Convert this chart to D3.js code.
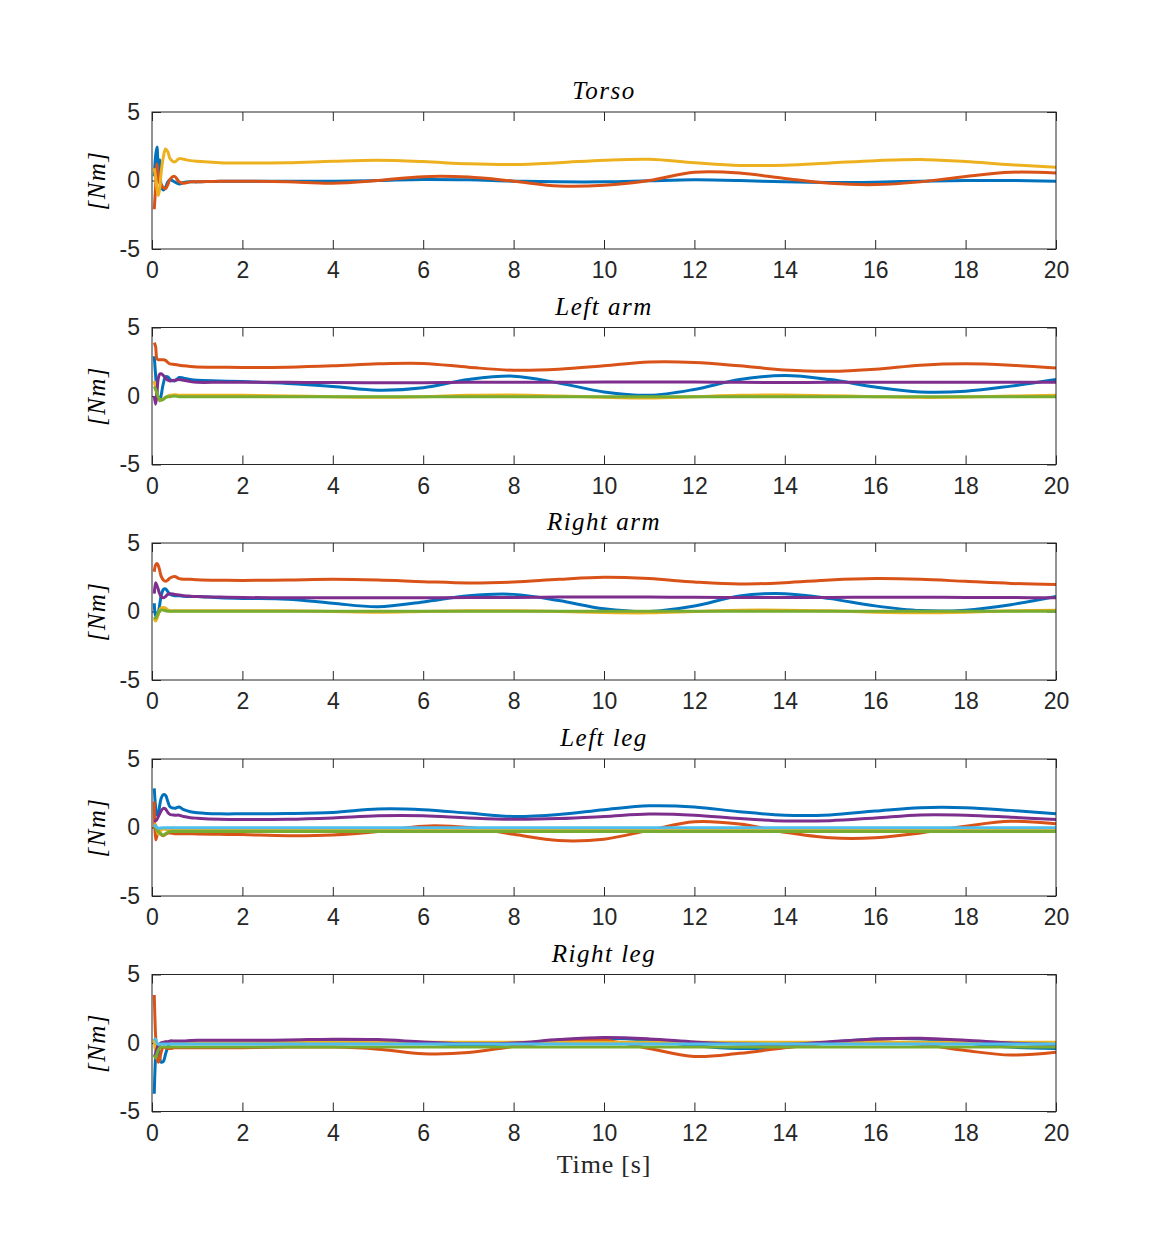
<!DOCTYPE html>
<meta charset="utf-8">
<title>Joint torques</title>
<style>
body { margin: 0; background: #fff; }
.tick text { font-family: "Liberation Sans", Arial, sans-serif; font-size: 23px; fill: #262626; }
.tick line { stroke: #262626; }
.frame { fill: none; stroke: #262626; stroke-width: 1; }
.ttl { font-family: "Liberation Serif", "DejaVu Serif", serif; font-style: italic; font-size: 25px; letter-spacing: 1.5px; fill: #000; }
.lbl { font-family: "Liberation Serif", "DejaVu Serif", serif; font-size: 26px; letter-spacing: 0.8px; fill: #262626; }
</style>
<svg width="1167" height="1250"></svg>
<script src="https://d3js.org/d3.v7.min.js"></script>
<script>

// time samples (s), dense at the start transient
var time = [0.05,0.08,0.11,0.14,0.17,0.2,0.25,0.3,0.35,0.4,0.5,0.6,0.7,0.85,1,1.5,
            2,3,4,5,6,7,8,9,10,11,12,13,14,15,16,17,18,19,20];

var titles = ["Torso", "Left arm", "Right arm", "Left leg", "Right leg"];
var yTicks = [-5, 0, 5];
var xTicks = [0,2,4,6,8,10,12,14,16,18,20];
var colors = ["#0072BD", "#D95319", "#EDB120", "#7E2F8E", "#77AC30", "#4DBEEE"];

// Torso
var torsoBlue   = [0.3,1.8,2.45,1.0,1.5,-0.3,-0.7,-0.5,-0.1,0.05,-0.1,-0.25,-0.15,-0.1,-0.1,-0.05,
                   -0.05,-0.05,-0.05,0,0.08,0.05,-0.05,-0.1,-0.1,-0.02,0.05,0,-0.1,-0.15,-0.12,-0.05,0,0,-0.05];
var torsoOrange = [-2.1,-0.5,1.2,0.3,-0.2,-0.3,-0.5,-0.6,-0.3,0.1,0.3,-0.1,-0.2,-0.1,-0.1,-0.05,
                   -0.05,-0.1,-0.2,0,0.28,0.25,-0.05,-0.4,-0.35,0,0.6,0.55,0.15,-0.2,-0.3,-0.1,0.3,0.6,0.55];
var torsoYellow = [0.9,0.2,-0.6,-1.1,-0.6,0.5,1.7,2.3,2.1,1.6,1.35,1.6,1.55,1.45,1.4,1.3,
                   1.27,1.3,1.4,1.47,1.38,1.22,1.17,1.3,1.48,1.55,1.3,1.1,1.12,1.28,1.45,1.54,1.38,1.15,0.97];

// Left arm
var lArmBlue   = [2.9,1.5,0.3,-0.2,-0.35,0,0.9,1.4,1.4,1.2,1.1,1.35,1.3,1.2,1.15,1.1,
                  1.05,0.92,0.7,0.42,0.6,1.2,1.45,0.95,0.3,0.05,0.48,1.2,1.5,1.2,0.66,0.3,0.35,0.72,1.2];
var lArmOrange = [3.9,3.6,2.7,2.65,2.65,2.65,2.65,2.6,2.45,2.35,2.3,2.25,2.2,2.15,2.12,2.1,
                  2.08,2.1,2.2,2.35,2.38,2.1,1.88,1.95,2.2,2.48,2.45,2.2,1.9,1.8,1.95,2.25,2.35,2.25,2.05];
var lArmYellow = [1.1,0.6,0.1,-0.2,-0.3,-0.3,-0.2,-0.1,0,0.05,0.1,0.05,0.05,0.05,0.05,0.05,
                  0.05,0,-0.05,-0.1,-0.05,0.05,0.08,0,-0.1,-0.15,-0.05,0.05,0.08,0.02,-0.05,-0.1,-0.08,0,0.05];
var lArmPurple = [0,-0.6,0.3,1.3,1.6,1.62,1.5,1.3,1.15,1.1,1.15,1.2,1.15,1.05,1.0,1.0,
                  1.0,1.0,0.98,0.96,0.97,1.0,1.0,1.0,1.02,1.03,1.02,1.0,0.99,1.0,1.0,1.0,1.0,1.0,1.0];
var lArmGreen  = [0.7,0.5,0.2,-0.1,-0.25,-0.3,-0.25,-0.1,-0.05,-0.05,0,-0.05,-0.05,-0.05,-0.05,-0.05,
                  -0.05,-0.05,-0.05,-0.05,-0.05,-0.05,-0.05,-0.05,-0.05,-0.05,-0.05,-0.05,-0.05,-0.05,-0.05,-0.05,-0.05,-0.05,-0.05];

// Right arm
var rArmBlue   = [0.6,-0.3,-0.4,-0.1,0.5,1.1,1.6,1.65,1.45,1.25,1.15,1.15,1.12,1.1,1.1,1.0,
                  0.95,0.9,0.6,0.35,0.7,1.15,1.25,0.8,0.2,0,0.4,1.14,1.3,0.94,0.41,0.07,0.1,0.5,1.1];
var rArmOrange = [2.9,3.4,3.5,3.35,3.0,2.6,2.3,2.2,2.3,2.45,2.55,2.4,2.35,2.35,2.32,2.28,
                  2.27,2.3,2.35,2.3,2.18,2.08,2.15,2.35,2.5,2.4,2.15,2.0,2.1,2.3,2.4,2.35,2.2,2.05,1.97];
var rArmYellow = [-0.5,-0.7,-0.5,-0.2,0.1,0.25,0.3,0.25,0.1,0.05,0.05,0.05,0.05,0.05,0.05,0.05,
                  0.05,0.05,0,-0.05,0,0.05,0.05,0,-0.08,-0.1,0,0.1,0.1,0.05,-0.05,-0.1,-0.05,0.05,0.1];
var rArmPurple = [1.3,2.1,1.9,1.6,1.3,1.1,1.0,1.1,1.25,1.3,1.25,1.2,1.15,1.12,1.1,1.05,
                  1.02,1.0,1.0,1.0,1.0,1.02,1.03,1.05,1.05,1.05,1.04,1.02,1.02,1.03,1.04,1.04,1.03,1.02,1.0];
var rArmGreen  = [-0.4,-0.5,-0.3,-0.1,0.05,0.1,0.1,0.05,0.02,0.02,0.02,0.02,0.02,0.02,0.02,0.02,
                  0.02,0.02,0.02,0.02,0.02,0.02,0.02,0.02,0.02,0.02,0.02,0.02,0.02,0.02,0.02,0.02,0.02,0.02,0.02];

// Left leg
var lLegBlue   = [2.85,1.5,0.9,1.0,1.6,2.1,2.4,2.35,1.9,1.5,1.4,1.5,1.3,1.15,1.08,1.0,
                  1.0,1.02,1.1,1.35,1.3,1.05,0.8,0.95,1.3,1.58,1.5,1.15,0.9,0.92,1.2,1.45,1.45,1.25,1.0];
var lLegOrange = [1.9,-0.9,-0.6,-0.2,-0.3,-0.5,-0.6,-0.5,-0.4,-0.4,-0.45,-0.45,-0.45,-0.45,-0.47,-0.5,
                  -0.52,-0.6,-0.55,-0.3,0.1,0,-0.5,-0.95,-0.85,-0.2,0.42,0.25,-0.35,-0.75,-0.75,-0.4,0.1,0.45,0.27];
var lLegYellow = [0.3,0.2,-0.2,-0.5,-0.4,-0.2,-0.1,-0.15,-0.15,-0.15,-0.15,-0.15,-0.15,-0.15,-0.15,-0.15,
                  -0.15,-0.15,-0.15,-0.15,-0.15,-0.15,-0.15,-0.15,-0.15,-0.15,-0.15,-0.15,-0.15,-0.15,-0.15,-0.15,-0.15,-0.15,-0.15];
var lLegPurple = [0.5,0.5,0.6,0.8,1.0,1.2,1.4,1.35,1.1,0.95,0.9,0.9,0.8,0.72,0.68,0.6,
                  0.58,0.6,0.7,0.85,0.85,0.7,0.6,0.65,0.8,0.98,0.9,0.65,0.48,0.5,0.7,0.92,0.9,0.75,0.58];
var lLegGreen  = [0.2,0,-0.2,-0.3,-0.4,-0.5,-0.55,-0.45,-0.35,-0.3,-0.3,-0.3,-0.3,-0.3,-0.3,-0.3,
                  -0.3,-0.3,-0.3,-0.3,-0.3,-0.3,-0.3,-0.3,-0.3,-0.3,-0.3,-0.3,-0.3,-0.3,-0.3,-0.3,-0.3,-0.3,-0.3];
var lLegCyan   = [0.2,0.1,0,-0.05,-0.05,-0.03,-0.02,-0.02,-0.02,-0.02,-0.02,-0.02,-0.02,-0.02,-0.02,-0.02,
                  -0.02,-0.02,-0.02,-0.02,-0.02,-0.02,-0.02,-0.02,-0.02,-0.02,-0.02,-0.02,-0.02,-0.02,-0.02,-0.02,-0.02,-0.02,-0.02];

// Right leg
var rLegBlue   = [-3.7,-1.0,0,-0.5,-1.1,-1.4,-1.35,-0.8,-0.3,0,0.05,0,0,0,0,0,
                  0.05,0.1,0.2,0.15,0,-0.15,-0.05,0.2,0.35,0.2,-0.2,-0.4,-0.3,0.05,0.3,0.3,0,-0.3,-0.4];
var rLegOrange = [3.5,0.5,-1.0,-1.4,-1.2,-0.7,-0.3,-0.35,-0.4,-0.4,-0.35,-0.35,-0.35,-0.35,-0.35,-0.35,
                  -0.35,-0.3,-0.3,-0.45,-0.78,-0.7,-0.25,0.1,0.2,-0.4,-0.98,-0.75,-0.35,0,0.1,-0.1,-0.55,-0.88,-0.68];
var rLegYellow = [0.3,-0.5,-0.6,-0.3,-0.1,0,0.05,0.05,0.05,0.05,0.05,0.05,0.05,0.05,0.05,0.05,
                  0.05,0.05,0.05,0.05,0.05,0.05,0.05,0.05,0.05,0.05,0.05,0.05,0.05,0.05,0.05,0.05,0.05,0.05,0.05];
var rLegPurple = [-1.0,-0.8,-0.4,-0.2,-0.1,0,0.05,0.1,0.1,0.15,0.15,0.15,0.15,0.18,0.2,0.2,
                  0.2,0.22,0.28,0.25,0.08,-0.05,0,0.25,0.4,0.3,0.08,-0.08,-0.1,0.1,0.3,0.35,0.2,0,-0.12];
var rLegGreen  = [-0.9,-1.1,-0.8,-0.5,-0.35,-0.3,-0.3,-0.3,-0.3,-0.3,-0.3,-0.3,-0.3,-0.3,-0.3,-0.3,
                  -0.3,-0.3,-0.3,-0.3,-0.3,-0.3,-0.3,-0.3,-0.3,-0.3,-0.3,-0.3,-0.3,-0.3,-0.3,-0.3,-0.3,-0.3,-0.3];
var rLegCyan   = [0.2,0.3,0,-0.1,-0.1,-0.08,-0.08,-0.08,-0.08,-0.08,-0.08,-0.08,-0.08,-0.08,-0.08,-0.08,
                  -0.08,-0.08,-0.08,-0.08,-0.08,-0.08,-0.08,-0.08,-0.08,-0.08,-0.08,-0.08,-0.08,-0.08,-0.08,-0.08,-0.08,-0.08,-0.08];

var panels = [
  [torsoBlue, torsoOrange, torsoYellow],
  [lArmBlue, lArmOrange, lArmYellow, lArmPurple, lArmGreen],
  [rArmBlue, rArmOrange, rArmYellow, rArmPurple, rArmGreen],
  [lLegBlue, lLegOrange, lLegYellow, lLegPurple, lLegGreen, lLegCyan],
  [rLegBlue, rLegOrange, rLegYellow, rLegPurple, rLegGreen, rLegCyan]
];

var svg = d3.select("svg"),
    left = 152, width = 904, height = 137,
    tops = [112, 327.5, 543, 759, 974.5];

var x = d3.scaleLinear().domain([0, 20]).range([0, width]);
var y = d3.scaleLinear().domain([-5, 5]).range([height, 0]);

// plain hyphen for negatives, like MATLAB
var fmt = function(d) { return String(d); };

var line = d3.line()
    .x(function(d, i) { return x(time[i]); })
    .y(function(d) { return y(d); })
    .curve(d3.curveCatmullRom.alpha(0.5));

panels.forEach(function(series, k) {
  var g = svg.append("g")
      .attr("transform", "translate(" + left + "," + tops[k] + ")");

  g.append("clipPath").attr("id", "clip" + k)
    .append("rect").attr("width", width).attr("height", height);

  // axes, MATLAB style: ticks inward, box on
  g.append("g").attr("transform", "translate(0," + height + ")")
      .call(d3.axisBottom(x).tickValues(xTicks).tickFormat(fmt).tickSizeInner(-9).tickSizeOuter(0).tickPadding(13))
      .call(function(a) { a.select(".domain").remove(); });
  g.append("g")
      .call(d3.axisTop(x).tickValues(xTicks).tickSizeInner(-9).tickSizeOuter(0).tickFormat(""))
      .call(function(a) { a.select(".domain").remove(); });
  g.append("g")
      .call(d3.axisLeft(y).tickValues(yTicks).tickFormat(fmt).tickSizeInner(-9).tickSizeOuter(0).tickPadding(12))
      .call(function(a) { a.select(".domain").remove(); });
  g.append("g").attr("transform", "translate(" + width + ",0)")
      .call(d3.axisRight(y).tickValues(yTicks).tickSizeInner(-9).tickSizeOuter(0).tickFormat(""))
      .call(function(a) { a.select(".domain").remove(); });

  g.append("g").attr("clip-path", "url(#clip" + k + ")")
    .selectAll("path")
    .data(series)
    .enter().append("path")
      .attr("d", line)
      .attr("fill", "none")
      .attr("stroke", function(d, i) { return colors[i]; })
      .attr("stroke-width", 3)
      .attr("stroke-linejoin", "round");

  g.append("rect").attr("class", "frame")
      .attr("width", width).attr("height", height);

  g.append("text").attr("class", "ttl")
      .attr("x", width / 2).attr("y", -13)
      .attr("text-anchor", "middle")
      .text(titles[k]);

  g.append("text").attr("class", "ttl")
      .attr("transform", "translate(-47," + (height / 2) + ") rotate(-90)")
      .attr("text-anchor", "middle")
      .text("[Nm]");
});

svg.append("text").attr("class", "lbl")
    .attr("x", left + width / 2).attr("y", 1173)
    .attr("text-anchor", "middle")
    .text("Time [s]");

</script>
